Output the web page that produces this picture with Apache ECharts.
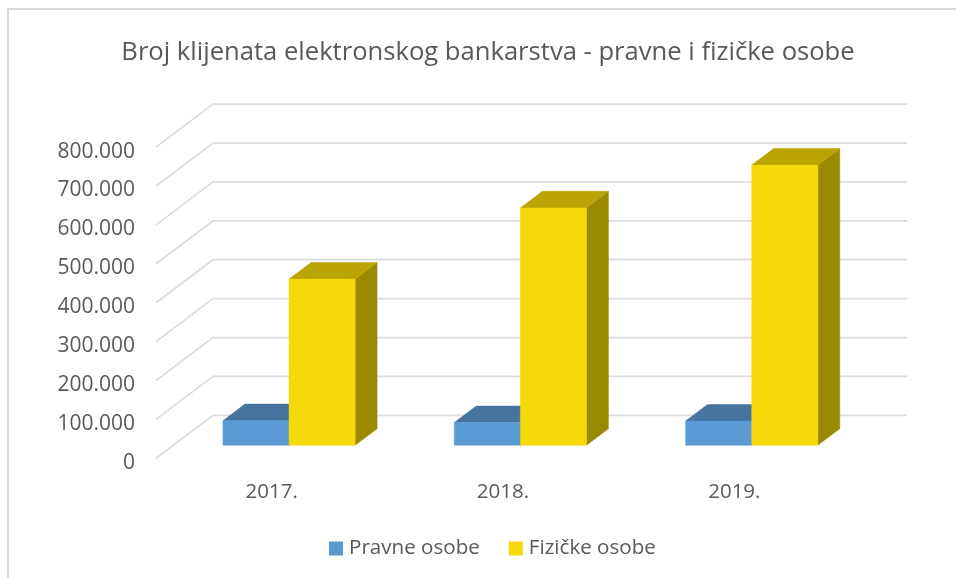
<!DOCTYPE html>
<html><head><meta charset="utf-8">
<style>html,body{margin:0;padding:0;background:#fff}#c{width:956px;height:578px}</style>
<script src="https://cdn.jsdelivr.net/npm/echarts@6/dist/echarts.min.js"></script>
</head><body><div id="c"></div>
<script>
const categories = ['2017.', '2018.', '2019.'];
const pravneOsobe = [63000, 58000, 62000];
const fizickeOsobe = [427000, 610000, 720000];
const tickValues = [0, 100000, 200000, 300000, 400000, 500000, 600000, 700000, 800000];

const FONT = '"Open Sans"';
const TEXT = '#595959';
const FLOOR_DX = 57, FLOOR_DY = -43;      // floor depth, front to back wall
const BAR_START = 0.305, BAR_END = 0.69;   // bar depth as a share of the floor
const GAP_RATIO = 1.5;

function barSeries(name, values, slot, front, top, side) {
  return {
    type: 'custom', name, data: values.map((v, i) => [i, v]),
    itemStyle: { color: front },
    encode: { x: 0, y: 1 },
    renderItem(params, api) {
      const cat = api.value(0), val = api.value(1);
      const band = api.size([1, 0])[0];
      const w = band / (2 + GAP_RATIO);
      const base = api.coord([cat, 0]), head = api.coord([cat, val]);
      const sx = FLOOR_DX * BAR_START, sy = FLOOR_DY * BAR_START;
      const dx = FLOOR_DX * (BAR_END - BAR_START), dy = FLOOR_DY * (BAR_END - BAR_START);
      const x0 = base[0] + sx + (slot - 1) * w, x1 = x0 + w;
      const y0 = base[1] + sy, y1 = head[1] + sy;
      const poly = (points, fill) => ({ type: 'polygon', shape: { points }, style: { fill, stroke: fill, lineWidth: 0.5 } });
      return { type: 'group', children: [
        poly([[x1, y0], [x1 + dx, y0 + dy], [x1 + dx, y1 + dy], [x1, y1]], side),
        poly([[x0, y1], [x1, y1], [x1 + dx, y1 + dy], [x0 + dx, y1 + dy]], top),
        poly([[x0, y0], [x1, y0], [x1, y1], [x0, y1]], front)
      ] };
    }
  };
}

const chart = echarts.init(document.getElementById('c'), null, { renderer: 'canvas' });
chart.setOption({
  animation: false,
  backgroundColor: '#fff',
  title: {
    text: 'Broj klijenata elektronskog bankarstva - pravne i fizičke osobe',
    left: 483, top: 35, textAlign: 'center',
    textStyle: { fontFamily: FONT, fontSize: 25.6, fontWeight: 'normal', color: TEXT }
  },
  legend: {
    left: 329, top: 538, padding: 0, icon: 'rect', itemWidth: 14, itemHeight: 14, itemGap: 29,
    data: ['Pravne osobe', 'Fizičke osobe'],
    textStyle: { fontFamily: FONT, fontSize: 20.6, color: TEXT, padding: [0, 0, 0, 1] }
  },
  grid: { left: 156, right: 106, top: 147.1, bottom: 119.7, containLabel: false },
  xAxis: {
    type: 'category', data: categories,
    axisLine: { show: false }, axisTick: { show: false }, splitLine: { show: false },
    axisLabel: { margin: 23, fontFamily: FONT, fontSize: 20.5, color: TEXT }
  },
  yAxis: {
    type: 'value', min: 0, max: 800000, interval: 100000,
    axisLine: { show: false }, axisTick: { show: false }, splitLine: { show: false },
    axisLabel: {
      margin: 21, fontFamily: FONT, fontSize: 21, color: TEXT, padding: [0, 0, 6, 0],
      verticalAlign: 'top', verticalAlignMinLabel: 'top', verticalAlignMaxLabel: 'top', lineHeight: 9,
      formatter: v => v === 0 ? '0' : String(v).replace(/\B(?=(\d{3})+$)/g, '.')
    }
  },
  graphic: [
    { type: 'polyline', silent: true, shape: { points: [[8, 578], [8, 9], [956, 9]] },
      style: { stroke: '#d9d9d9', lineWidth: 2, fill: null } }
  ],
  series: [
    {
      type: 'custom', name: 'rešetka', data: tickValues.map(v => [v]), encode: { y: 0 },
      renderItem(params, api) {
        const v = api.value(0);
        const a = api.coord([0, v]);
        const band = api.size([1, 0])[0];
        const left = a[0] - band / 2;
        return { type: 'polyline', shape: { points: [
          [left, a[1]], [left + FLOOR_DX, a[1] + FLOOR_DY], [left + FLOOR_DX + band * categories.length, a[1] + FLOOR_DY]
        ] }, style: { stroke: '#dcdcdc', lineWidth: 1.75, fill: null } };
      }
    },
    barSeries('Pravne osobe', pravneOsobe, 0, '#5B9BD5', '#44749F', '#3A6A96'),
    barSeries('Fizičke osobe', fizickeOsobe, 1, '#F6D90A', '#BAA404', '#9C8902')
  ]
});
</script></body></html>
